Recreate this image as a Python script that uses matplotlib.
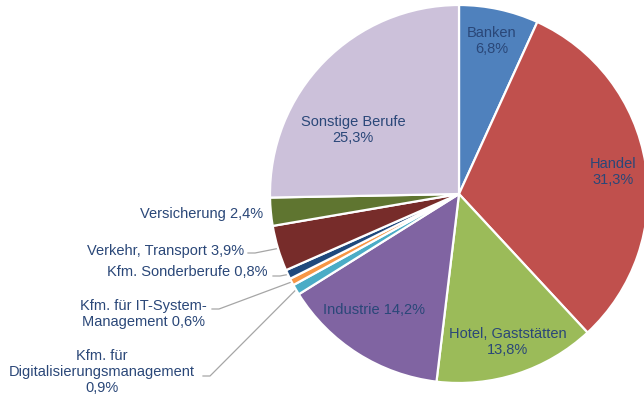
import numpy as np
import matplotlib.pyplot as plt

# ---------------------------------------------------------
# Daten
# ---------------------------------------------------------
labels = ["Banken", "Handel", "Hotel, Gaststätten", "Industrie",
          "Kfm. für\nDigitalisierungsmanagement", "Kfm. für IT-System-\nManagement",
          "Kfm. Sonderberufe", "Verkehr, Transport", "Versicherung", "Sonstige Berufe"]
values = [6.8, 31.3, 13.8, 14.2, 0.9, 0.6, 0.8, 3.9, 2.4, 25.3]
colors = ["#4F81BD", "#C0504D", "#9BBB59", "#8064A2", "#4BACC6",
          "#F79646", "#1F497D", "#772C2A", "#5F7530", "#CCC1DA"]

TEXT_COLOR = "#2A4778"
LINE_COLOR = "#A6A6A6"
plt.rcParams['font.family'] = ['Liberation Sans', 'DejaVu Sans']

# Pixel-Geometrie des Kreises
W, H = 644, 400
CX, CY, R = 459, 194, 189


def px(x, y):
    # Pixel -> Datenkoordinaten (Radius 1)
    return (x - CX) / R, (CY - y) / R


def fmt(v):
    return f"{v:.1f}".replace(".", ",") + "%"


fig = plt.figure(figsize=(W / 100, H / 100), dpi=100)
ax = fig.add_axes([(CX - R) / W, (H - CY - R) / H, 2 * R / W, 2 * R / H])
wedges, _ = ax.pie(values, colors=colors, startangle=90, counterclock=False,
                   radius=1, wedgeprops=dict(edgecolor="white", linewidth=1.6))
ax.set_xlim(-1, 1)
ax.set_ylim(-1, 1)
ax.set_aspect("equal")
ax.axis("off")

# Beschriftungen innerhalb (Position in Pixel, Ausrichtung)
inside = {
    0: (492, 41, f"{labels[0]}\n{fmt(values[0])}"),
    1: (613, 172, f"{labels[1]}\n{fmt(values[1])}"),
    2: (508, 342, f"{labels[2]}\n{fmt(values[2])}"),
    3: (374, 310, f"{labels[3]} {fmt(values[3])}"),
    9: (353, 130, f"{labels[9]}\n{fmt(values[9])}"),
}
for i, (x, y, t) in inside.items():
    ax.text(*px(x, y), t, ha="center", va="center", fontsize=10.5,
            color=TEXT_COLOR, linespacing=1.15, clip_on=False)

# Beschriftungen außerhalb: (x, y, ha, Endpunkt Text-Linie in Pixel oder None)
outside = {
    8: (263, 214, "right", None),
    7: (244, 251, "right", (248, 253)),
    6: (267, 272, "right", (273, 276)),
    5: (143, 314, "center", (212, 309)),
    4: (102, 372, "center", (203, 376)),
}
for i, (x, y, ha, lp) in outside.items():
    if i == 4:
        t = f"{labels[i]}\n{fmt(values[i])}"
    else:
        t = f"{labels[i]} {fmt(values[i])}"
    ax.text(*px(x, y), t, ha=ha, va="center", fontsize=10.5, color=TEXT_COLOR,
            linespacing=1.15, multialignment="center", clip_on=False)
    if lp is not None:
        w = wedges[i]
        mid = np.deg2rad((w.theta1 + w.theta2) / 2)
        ex, ey = np.cos(mid), np.sin(mid)
        x0, y0 = px(*lp)
        x1, y1 = px(lp[0] + 7, lp[1])
        ax.plot([x0, x1, ex], [y0, y1, ey], color=LINE_COLOR, lw=0.9,
                clip_on=False, zorder=0)

fig.savefig("out.png", dpi=100)
